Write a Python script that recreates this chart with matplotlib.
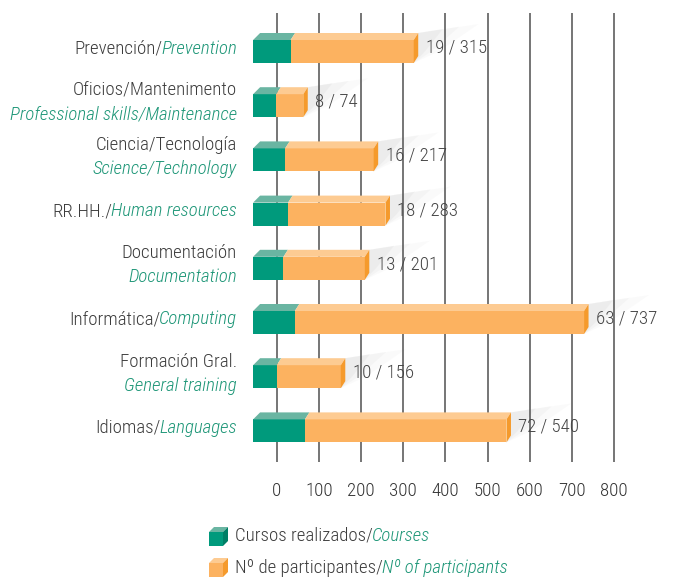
import numpy as np
import matplotlib
matplotlib.use("Agg")
import matplotlib.pyplot as plt
from matplotlib.patches import Polygon

plt.rcParams["font.family"] = ["Roboto Condensed", "DejaVu Sans"]
plt.rcParams["font.weight"] = "light"

#%% Data

es_labels = ["Prevención/", "Oficios/Mantenimento", "Ciencia/Tecnología", "RR.HH./",
             "Documentación", "Informática/", "Formación Gral.", "Idiomas/"]
en_labels = ["Prevention", "Professional skills/Maintenance", "Science/Technology",
             "Human resources", "Documentation", "Computing", "General training", "Languages"]
courses = [19, 8, 16, 18, 13, 63, 10, 72]
participants = [315, 74, 217, 283, 201, 737, 156, 540]
# drawn extents of the two segments (axis units), as measured on the chart
bar_start = -56
green_end = [33, -1, 20, 27, 16, 43, 0, 67]
orange_end = [325, 63, 230, 258, 209, 729, 152, 545]
ticks = [0, 100, 200, 300, 400, 500, 600, 700, 800]

#%% Layout helpers (pixel geometry)

W, H = 692, 578
X0PX, PXU = 276.7, 0.4216      # pixel of 0, pixels per unit
Y0PX, ROWPX = 51.5, 54.2       # pixel of first row, pixels per row

def ux(p):
    return p / PXU

def uy(p):
    return p / ROWPX

GREEN, GREEN_TOP = "#009a7c", "#6ab5a2"
ORANGE, ORANGE_TOP, ORANGE_SIDE = "#fcb260", "#fdcb92", "#f59a2c"
GRAY_TXT, TEAL_TXT = "#3c3c3c", "#1d9677"

fig = plt.figure(figsize=(W / 100, H / 100), dpi=100)
ax = fig.add_axes([0, 0, 1, 1])
ax.set_xlim(-X0PX / PXU, (W - X0PX) / PXU)
ax.set_ylim((H - Y0PX) / ROWPX, -Y0PX / ROWPX)
ax.axis("off")

FS = 13.6

# grid lines
ax.vlines(ticks, uy(13 - Y0PX), uy(462 - Y0PX), color="#505050", lw=1.1, zorder=1)
for t in ticks:
    ax.text(t, uy(491 - Y0PX), str(t), ha="center", va="center",
            fontsize=FS, color="#333333")

def box(x0, x1, yc, front, top, zo, side=None, dxl=7, dxr=4.5):
    yt, yb = yc - uy(11.5), yc + uy(11.5)
    dy = uy(7)
    ax.add_patch(Polygon([(x0, yb), (x1, yb), (x1, yt), (x0, yt)], closed=True,
                         fc=front, ec="none", zorder=zo))
    ax.add_patch(Polygon([(x0, yt), (x1, yt), (x1 + ux(dxr), yt - dy), (x0 + ux(dxl), yt - dy)],
                         closed=True, fc=top, ec="none", zorder=zo))
    if side is not None:
        ax.add_patch(Polygon([(x1, yt), (x1 + ux(dxr), yt - dy), (x1 + ux(dxr), yb - dy), (x1, yb)],
                             closed=True, fc=side, ec="none", zorder=zo))

for i in range(len(es_labels)):
    yc = i
    yt, yb = yc - uy(11.5), yc + uy(11.5)
    x1 = orange_end[i]
    # soft shadow behind the bar end
    for k, a in zip([1.0, 0.7, 0.45], [0.045, 0.06, 0.08]):
        ax.add_patch(Polygon([(x1, yb), (x1 + ux(4.5), yt - uy(7)),
                              (x1 + ux(65 * k), yt - uy(7 + 9 * k)),
                              (x1 + ux(25 * k), yc)],
                             closed=True, fc="#9a9a9a", ec="none", alpha=a, zorder=0.5))
    box(bar_start, green_end[i], yc, GREEN, GREEN_TOP, 2, dxl=7, dxr=4.5)
    box(green_end[i], x1, yc, ORANGE, ORANGE_TOP, 2, side=ORANGE_SIDE, dxl=4.5, dxr=4.5)
    ax.text(x1 + ux(12), yc - uy(4), f"{courses[i]} / {participants[i]}",
            ha="left", va="center", fontsize=FS, color="#444444", zorder=3)

#%% Category labels (two styles)

fig.canvas.draw()
renderer = fig.canvas.get_renderer()
inv = ax.transData.inverted()

def label_right(x_px, y_px, es, en):
    x = ux(x_px - X0PX)
    y = uy(y_px - Y0PX)
    t_en = ax.text(x, y, en, ha="right", va="center", fontsize=FS, color=TEAL_TXT, style="italic")
    bb = t_en.get_window_extent(renderer)
    xl = inv.transform((bb.x0 + 1.5, bb.y0))[0]
    ax.text(xl, y, es, ha="right", va="center", fontsize=FS, color=GRAY_TXT)

def label_left(x_px, y_px, es, en):
    x = ux(x_px - X0PX)
    y = uy(y_px - Y0PX)
    t_es = ax.text(x, y, es, ha="left", va="center", fontsize=FS, color=GRAY_TXT)
    bb = t_es.get_window_extent(renderer)
    xr = inv.transform((bb.x1 - 1, bb.y0))[0]
    ax.text(xr, y, en, ha="left", va="center", fontsize=FS, color=TEAL_TXT, style="italic")

XLAB = 237
for i, (es, en) in enumerate(zip(es_labels, en_labels)):
    ypx = Y0PX + ROWPX * i - 3
    if es.endswith("/"):
        label_right(XLAB, ypx, es, en)
    else:
        ax.text(ux(XLAB - X0PX), uy(ypx - 12 - Y0PX), es, ha="right", va="center",
                fontsize=FS, color=GRAY_TXT)
        ax.text(ux(XLAB - X0PX), uy(ypx + 12 - Y0PX), en, ha="right", va="center",
                fontsize=FS, color=TEAL_TXT, style="italic")

#%% Legend with cube icons

def cube(xc_px, yc_px, front, top, side):
    s = 14
    d = 5
    xl, xr = xc_px - s / 2 - 2, xc_px + s / 2 - 2
    yt, yb = yc_px - s / 2 + 2, yc_px + s / 2 + 2
    P = lambda x, y: (ux(x - X0PX), uy(y - Y0PX))
    ax.add_patch(Polygon([P(xl, yt), P(xr, yt), P(xr, yb), P(xl, yb)], fc=front, ec="none"))
    ax.add_patch(Polygon([P(xl, yt), P(xr, yt), P(xr + d, yt - d), P(xl + d, yt - d)], fc=top, ec="none"))
    ax.add_patch(Polygon([P(xr, yt), P(xr + d, yt - d), P(xr + d, yb - d), P(xr, yb)], fc=side, ec="none"))

cube(218, 537, GREEN, GREEN_TOP, "#007f66")
cube(218, 568, ORANGE, ORANGE_TOP, ORANGE_SIDE)
label_left(235, 536, "Cursos realizados/", "Courses")
label_left(235, 568, "Nº de participantes/", "Nº of participants")

fig.savefig("out.png", dpi=100)
